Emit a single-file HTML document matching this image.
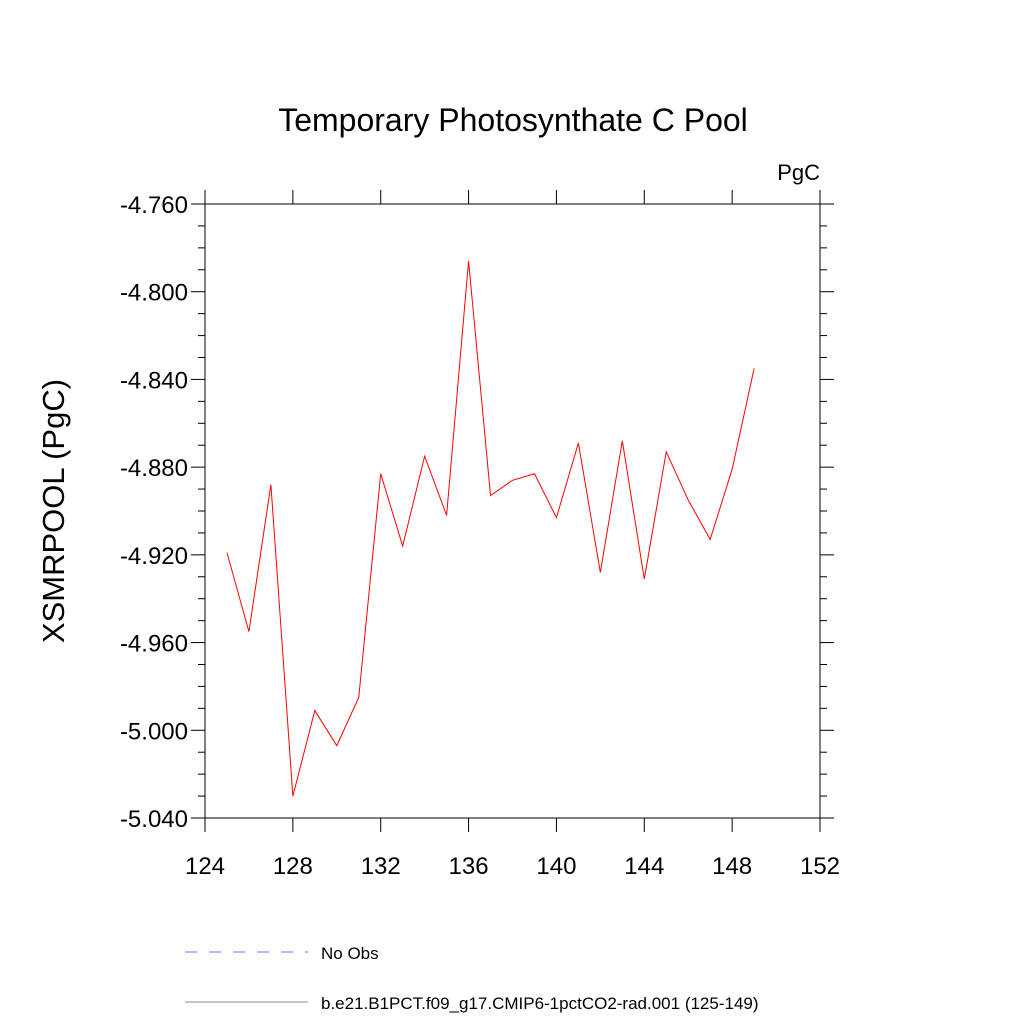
<!DOCTYPE html>
<html><head><meta charset="utf-8"><style>
body{margin:0;background:#fff;}
svg text{font-family:"Liberation Sans",sans-serif;fill:#000;}
</style></head><body>
<svg id="chart" width="1024" height="1024" viewBox="0 0 1024 1024">
<text x="513" y="131" font-size="32" text-anchor="middle">Temporary Photosynthate C Pool</text>
<text x="820" y="180" font-size="22" text-anchor="end">PgC</text>
<text transform="translate(64,511) rotate(-90)" font-size="31" text-anchor="middle">XSMRPOOL  (PgC)</text>
<g id="axes"></g>
<g id="series"></g>
<line x1="185" y1="952" x2="308" y2="952" stroke="#6b6bff" stroke-width="1" stroke-dasharray="12,12"/>
<text x="321" y="959" font-size="17">No Obs</text>
<line x1="185" y1="1002" x2="308" y2="1002" stroke="#888" stroke-width="1"/>
<text x="321" y="1009" font-size="17">b.e21.B1PCT.f09_g17.CMIP6-1pctCO2-rad.001 (125-149)</text>
</svg>
<script>
const years=[125,126,127,128,129,130,131,132,133,134,135,136,137,138,139,140,141,142,143,144,145,146,147,148,149];
const values=[-4.919,-4.955,-4.888,-5.030,-4.991,-5.007,-4.985,-4.883,-4.916,-4.875,-4.902,-4.786,-4.893,-4.886,-4.883,-4.903,-4.869,-4.928,-4.868,-4.931,-4.873,-4.895,-4.913,-4.881,-4.835];
const xTicks=[124,128,132,136,140,144,148,152];
const yTicks=[-4.76,-4.80,-4.84,-4.88,-4.92,-4.96,-5.00,-5.04];
const X0=205,X1=820,Y0=204,Y1=818,xmin=124,xmax=152,ymin=-5.04,ymax=-4.76;
const sx=v=>X0+(v-xmin)/(xmax-xmin)*(X1-X0);
const sy=v=>Y1-(v-ymin)/(ymax-ymin)*(Y1-Y0);
const NS="http://www.w3.org/2000/svg";
const axes=document.getElementById('axes');
function ln(x1,y1,x2,y2,c,name){const l=document.createElementNS(NS,'line');
l.setAttribute('x1',x1);l.setAttribute('y1',y1);l.setAttribute('x2',x2);l.setAttribute('y2',y2);
l.setAttribute('stroke',c||'#000');l.setAttribute('stroke-width','1');


axes.appendChild(l);}
ln(X0-14,Y0,X1+14,Y0,'#000','frame-top');
ln(X0-14,Y1,X1+14,Y1,'#000','frame-bottom');
ln(X0,Y0-14,X0,Y1+14,'#000','frame-left');
ln(X1,Y0-14,X1,Y1+14,'#000','frame-right');
xTicks.forEach(t=>{const x=sx(t);ln(x,Y0,x,Y0-14,'#000','x-tick-top');ln(x,Y1,x,Y1+14,'#000','x-tick');
const tx=document.createElementNS(NS,'text');tx.setAttribute('x',x);tx.setAttribute('y',Y1+56);tx.setAttribute('font-size','24');tx.setAttribute('text-anchor','middle');tx.textContent=t;


axes.appendChild(tx);});
for(let i=0;i<=28;i++){const v=ymin+i*0.01;const y=sy(v);const major=i%4===0;const len=major?14:7;
ln(X0,y,X0-len,y,'#000','y-tick');ln(X1,y,X1+len,y,'#000','y-tick-right');}
yTicks.forEach(t=>{const tx=document.createElementNS(NS,'text');tx.setAttribute('x',X0-17);tx.setAttribute('y',sy(t)+9);tx.setAttribute('font-size','24');tx.setAttribute('text-anchor','end');tx.textContent=t.toFixed(3);


axes.appendChild(tx);});
const p=document.createElementNS(NS,'polyline');
p.setAttribute('points',years.map((y,i)=>sx(y)+','+sy(values[i])).join(' '));
p.setAttribute('fill','none');p.setAttribute('stroke','#ff0000');p.setAttribute('stroke-width','1');


document.getElementById('series').appendChild(p);
</script>
</body></html>
